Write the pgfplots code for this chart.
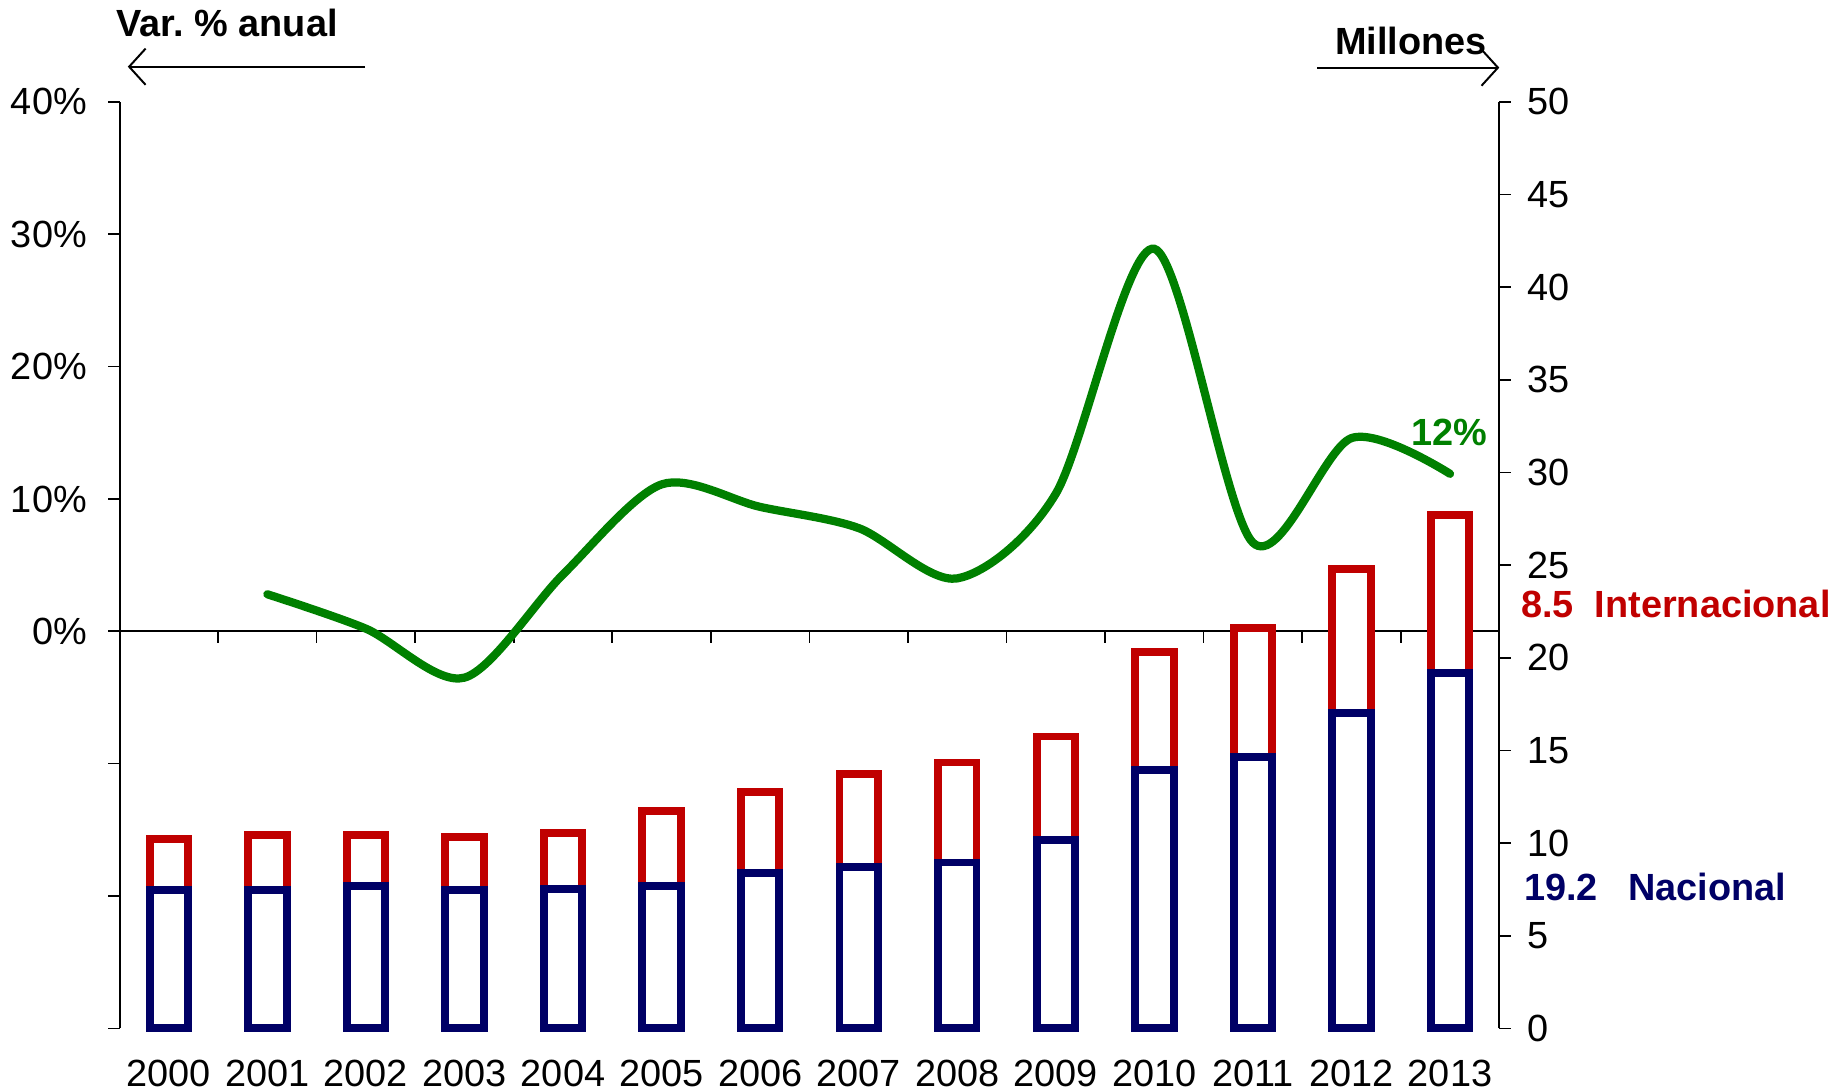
\documentclass[border=0pt]{standalone}
\usepackage{fontspec}
\setmainfont{Liberation Sans}
\usepackage{pgfplots}
\pgfplotsset{compat=1.18}
\usepackage{pgfplotstable}
\usetikzlibrary{arrows.meta}

\definecolor{navy}{HTML}{000066}
\definecolor{rojo}{HTML}{C00000}
\definecolor{verde}{HTML}{008000}

% year index, nacional, internacional (millones)
\pgfplotstableread{
x  nac   intl
0  7.45  2.75
1  7.45  3.00
2  7.70  2.75
3  7.45  2.90
4  7.50  3.05
5  7.70  4.05
6  8.40  4.35
7  8.70  5.05
8  8.95  5.40
9  10.15 5.60
10 13.95 6.35
11 14.65 6.95
12 17.00 7.80
13 19.20 8.50
}\pasajeros

% variacion % anual del total
\pgfplotstableread{
x  var
1  2.8
2  0.2
3  -3.5
4  4.3
5  11.1
6  9.4
7  7.8
8  4.0
9  10.4
10 28.9
11 6.7
12 14.6
13 11.9
}\variacion

\begin{document}
\begin{tikzpicture}[font=\fontsize{11.5}{13.8}\selectfont]
\pgfplotsset{
  every axis/.append style={
    scale only axis,
    width=14.725cm, height=9.8875cm,
    xmin=-0.5, xmax=13.5,
    /pgf/number format/assume math mode=true,
    tick style={black, line width=0.5pt},
    axis line style={black, line width=0.6pt},
  },
}
% left axis: variacion anual
\begin{axis}[
  axis y line*=left,
  axis x line=middle,
  x axis line style={-},
  y axis line style={-},
  ymin=-30, ymax=40,
  ytick={-30,-20,-10,0,10,20,30,40},
  yticklabels={,,,0\%,10\%,20\%,30\%,40\%},
  yticklabel style={xshift=-3pt},
  ytick align=outside,
  major tick length=0.12cm,
  xtick={0.5,1.5,...,12.5},
  xticklabels={},
  xtick align=outside,
  clip=false,
]
\addplot[verde, line width=2.5pt, smooth, tension=0.5, line cap=round] table[x=x, y=var] {\variacion};
\node[inner sep=0pt, font=\fontsize{11.5}{13.8}\selectfont\bfseries] at (rel axis cs:0.078,1.085) {Var.\ \% anual};
\draw[-{Straight Barb[length=5pt,width=11pt]}, line width=0.6pt] (rel axis cs:0.178,1.038) -- (rel axis cs:0.006,1.038);
\node[inner sep=0pt, font=\fontsize{11.5}{13.8}\selectfont\bfseries] at (rel axis cs:0.936,1.066) {Millones};
\draw[-{Straight Barb[length=5pt,width=11pt]}, line width=0.6pt] (rel axis cs:0.868,1.037) -- (rel axis cs:1.0,1.037);
\node[verde, inner sep=0pt, font=\fontsize{11.5}{13.8}\selectfont\bfseries] at (rel axis cs:0.964,0.643) {12\%};
\path (rel axis cs:-0.0849,-0.067) rectangle (rel axis cs:1.2462,1.11);
\end{axis}

% right axis: pasajeros en millones
\begin{axis}[
  axis y line*=right,
  axis x line*=bottom,
  x axis line style={draw=none},
  y axis line style={-},
  ymin=0, ymax=50,
  ytick distance=5,
  ytick align=outside,
  yticklabel style={xshift=1.5pt},
  major tick length=0.12cm,
  xtick=data,
  xticklabels={2000,2001,2002,2003,2004,2005,2006,2007,2008,2009,2010,2011,2012,2013},
  x tick style={draw=none},
  xticklabel style={inner sep=0pt, yshift=-9.3pt},
  ybar stacked,
  bar width=0.39,
  clip=false,
]
\addplot[draw=navy, fill=white, line width=2.4pt] table[x=x, y=nac] {\pasajeros};
\addplot[draw=rojo, fill=white, line width=2.4pt] table[x=x, y=intl] {\pasajeros};
\node[rojo, anchor=west, inner sep=0pt, font=\fontsize{11.5}{13.8}\selectfont\bfseries] at (rel axis cs:1.0155,0.458) {8.5\hspace{0.55em}Internacional};
\node[navy, anchor=west, inner sep=0pt, font=\fontsize{11.5}{13.8}\selectfont\bfseries] at (rel axis cs:1.0175,0.153) {19.2\hspace{0.8em}Nacional};
\end{axis}
\end{tikzpicture}
\end{document}
